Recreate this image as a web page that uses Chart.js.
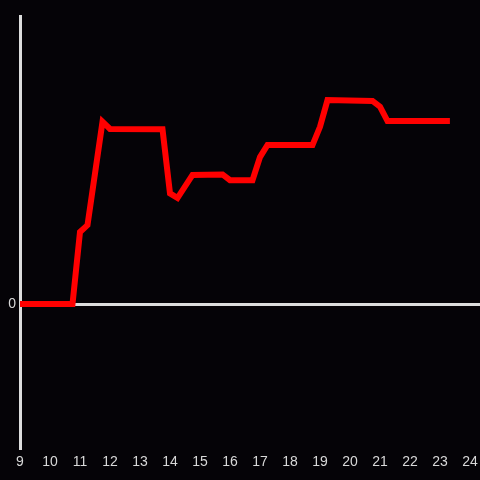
<!DOCTYPE html>
<html>
<head>
<meta charset="utf-8">
<script src="https://cdn.jsdelivr.net/npm/chart.js@4"></script>
<style>
  html, body { margin: 0; padding: 0; background: #050307; }
  #wrap { width: 480px; height: 480px; }
</style>
</head>
<body>
<div id="wrap"><canvas id="chart" width="480" height="480"></canvas></div>
<script>
// hour of day
const hours = [9, 10.75, 11, 11.25, 11.75, 12, 13.75, 14, 14.25, 14.75, 15.75, 16, 16.75, 17, 17.25, 18.75, 19, 19.25, 20.75, 21, 21.25, 23.33];
const values = [0, 0, 25, 27.4, 63.3, 60.8, 60.7, 38.4, 36.8, 44.8, 45, 43, 43, 51, 55.2, 55.2, 61.5, 70.8, 70.5, 68.5, 63.5, 63.5];
const xTicks = [9, 10, 11, 12, 13, 14, 15, 16, 17, 18, 19, 20, 21, 22, 23, 24];
const yTicks = [0];

const points = hours.map((h, i) => ({ x: h, y: values[i] }));

const ctx = document.getElementById('chart').getContext('2d');

const chart = new Chart(ctx, {
    type: 'line',
    data: {
        datasets: [{
            data: points,
            borderColor: '#ff0000',
            borderWidth: 6,
            pointRadius: 0,
            tension: 0,
            fill: false
        }]
    },
    options: {
        responsive: false,
        animation: false,
        layout: { padding: { top: 16, left: 0, right: 0, bottom: 0 } },
        plugins: { legend: { display: false }, tooltip: { enabled: false } },
        scales: {
            x: {
                type: 'linear',
                min: 9,
                max: 24 + 1 / 3,
                afterBuildTicks: (scale) => { scale.ticks = xTicks.map(v => ({ value: v })); },
                afterFit: (scale) => {
                    scale.height = 32;
                    scale.paddingLeft = 0;
                    scale.paddingRight = 0;
                },
                grid: { display: false, drawTicks: false },
                border: { display: false },
                ticks: {
                    color: '#d8d8d8',
                    padding: 6,
                    maxRotation: 0,
                    autoSkip: false,
                    font: { family: 'Liberation Sans', size: 14 }
                }
            },
            y: {
                min: -50,
                max: 100,
                afterBuildTicks: (scale) => { scale.ticks = yTicks.map(v => ({ value: v })); },
                afterFit: (scale) => { scale.width = 20; },
                grid: {
                    drawTicks: false,
                    color: (c) => (c.tick && c.tick.value === 0 ? '#dddddd' : 'transparent'),
                    lineWidth: 3
                },
                border: { display: true, color: '#dddddd', width: 3 },
                ticks: {
                    color: '#d8d8d8',
                    padding: 4,
                    font: { family: 'Liberation Sans', size: 14 }
                }
            }
        }
    }
});
</script>
</body>
</html>
